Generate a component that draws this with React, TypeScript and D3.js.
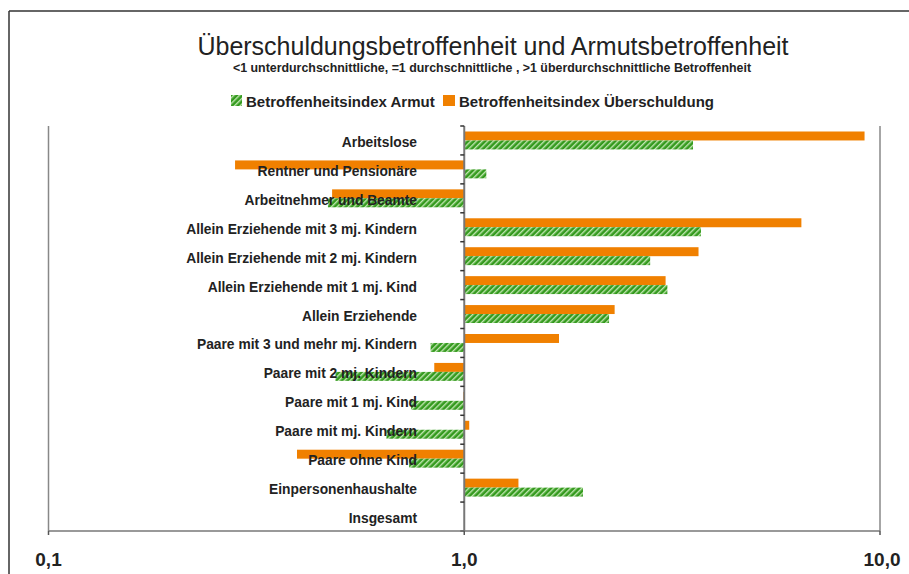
import React from "react";
import * as d3 from "d3";

const categories = [
  "Arbeitslose",
  "Rentner und Pensionäre",
  "Arbeitnehmer und Beamte",
  "Allein Erziehende mit 3 mj. Kindern",
  "Allein Erziehende mit 2 mj. Kindern",
  "Allein Erziehende mit 1 mj. Kind",
  "Allein Erziehende",
  "Paare mit 3 und mehr mj. Kindern",
  "Paare mit 2 mj. Kindern",
  "Paare mit 1 mj. Kind",
  "Paare mit mj. Kindern",
  "Paare ohne Kind",
  "Einpersonenhaushalte",
  "Insgesamt",
];
const armut = [3.55, 1.13, 0.47, 3.71, 2.8, 3.08, 2.23, 0.83, 0.49, 0.745, 0.65, 0.737, 1.93, 1.0];
const ueberschuldung = [9.18, 0.281, 0.481, 6.47, 3.66, 3.05, 2.3, 1.69, 0.847, 0.995, 1.028, 0.396, 1.35, 1.0];
const tickValues = [0.1, 1, 10];
const tickLabels = ["0,1", "1,0", "10,0"];

const W = 909;
const H = 574;
const orange = "#f08000";
const green = "#349a1e";
const ink = "#222";
const font = "'Liberation Sans', Arial, sans-serif";

export default function App() {
  const x = d3.scaleLog().domain([0.1, 10]).range([48.5, 880]);
  const y = d3.scaleBand().domain(categories).range([126, 531]);
  const bw = y.bandwidth();
  const bh = bw * 0.31;
  const x1 = x(1);

  const bar = (v: number) => ({ x: Math.min(x(v), x1), w: Math.abs(x(v) - x1) });

  return (
    <svg
      width={W}
      height={H}
      style={{ position: "absolute", left: 0, top: 0, background: "#fff" }}
      fontFamily={font}
    >
      <defs>
        <pattern id="hatch" width="4" height="4" patternUnits="userSpaceOnUse" patternTransform="rotate(45)">
          <rect width="4" height="4" fill={green} />
          <rect width="1.4" height="4" fill="#c0e6b0" />
        </pattern>
      </defs>

      {/* frame (only top and left visible) */}
      <line x1={9} x2={W} y1={11} y2={11} stroke="#333" strokeWidth={1.5} />
      <line x1={9} x2={9} y1={11} y2={H} stroke="#333" strokeWidth={1.5} />

      {/* title */}
      <text x={493} y={55} textAnchor="middle" fontSize={25} fill={ink}>
        Überschuldungsbetroffenheit und Armutsbetroffenheit
      </text>
      <text x={492} y={71.5} textAnchor="middle" fontSize={12.4} fontWeight="bold" fill={ink}>
        {"<1 unterdurchschnittliche, =1 durchschnittliche , >1 überdurchschnittliche Betroffenheit"}
      </text>

      {/* legend */}
      <rect x={231} y={95} width={11} height={11} fill="url(#hatch)" />
      <text x={246} y={106.5} fontSize={15} fontWeight="bold" fill={ink}>
        Betroffenheitsindex Armut
      </text>
      <rect x={443} y={95} width={12} height={11} fill={orange} />
      <text x={459} y={106.5} fontSize={15} fontWeight="bold" fill={ink}>
        Betroffenheitsindex Überschuldung
      </text>

      {/* gridlines at 0.1 and 10 */}
      {[0.1, 10].map((v) => (
        <line key={v} x1={x(v)} x2={x(v)} y1={126} y2={531} stroke="#888" strokeWidth={1.5} />
      ))}

      {/* bars */}
      {categories.map((c, i) => {
        const y0 = (y(c) as number) + (bw - 2 * bh) / 2;
        const o = bar(ueberschuldung[i]);
        const g = bar(armut[i]);
        return (
          <g key={c}>
            <rect x={o.x} y={y0} width={o.w} height={bh} fill={orange} />
            <rect x={g.x} y={y0 + bh} width={g.w} height={bh} fill="url(#hatch)" />
          </g>
        );
      })}

      {/* category axis at 1 */}
      <line x1={x1} x2={x1} y1={126} y2={531} stroke="#777" strokeWidth={2} />
      {d3.range(categories.length + 1).map((i) => {
        const yy = 126 + i * bw;
        return <line key={i} x1={x1 - 4} x2={x1} y1={yy} y2={yy} stroke="#333" strokeWidth={1.5} />;
      })}

      {/* category labels */}
      {categories.map((c) => (
        <text
          key={c}
          x={417}
          y={(y(c) as number) + bw / 2 + 6.5}
          textAnchor="end"
          fontSize={13.8}
          fontWeight="bold"
          fill={ink}
        >
          {c}
        </text>
      ))}

      {/* value axis */}
      <line x1={x(0.1)} x2={x(10)} y1={531} y2={531} stroke="#777" strokeWidth={1.5} />
      {tickValues.map((v, i) => (
        <g key={v}>
          <line x1={x(v)} x2={x(v)} y1={531} y2={535} stroke="#555" strokeWidth={1.5} />
          <text x={x(v) + (i === 2 ? 2 : 0)} y={566} textAnchor="middle" fontSize={19} fontWeight="bold" fill={ink}>
            {tickLabels[i]}
          </text>
        </g>
      ))}
    </svg>
  );
}
